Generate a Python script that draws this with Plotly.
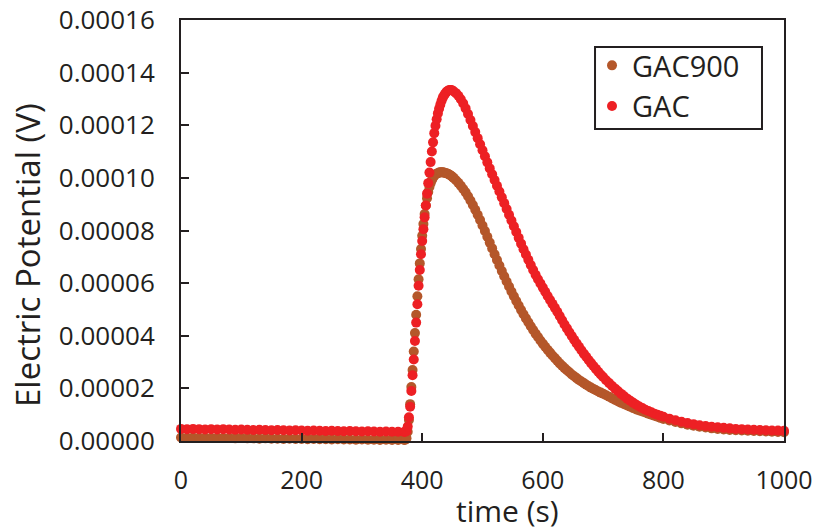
import plotly.graph_objects as go

# time (s)
time = [
    0, 10, 20, 30, 40, 50, 60, 70, 80, 90,
    100, 110, 120, 130, 140, 150, 160, 170, 180, 190,
    200, 210, 220, 230, 240, 250, 260, 270, 280, 290,
    300, 310, 320, 330, 340, 350, 360, 370,
    372, 374, 376, 378, 380, 382, 384, 386, 388, 390,
    392, 394, 396, 398, 400, 402, 404, 406, 408, 410,
    412, 414, 416, 418, 420, 422, 424, 426, 428, 430,
    432, 434, 436, 438, 440, 442, 444, 446, 448, 450,
    452, 456, 460, 464, 468, 472, 476, 480, 484, 488,
    492, 496, 500, 504, 508, 512, 516, 520, 524, 528,
    532, 536, 540, 544, 548, 552, 556, 560, 564, 568,
    572, 576, 580, 584, 588, 592, 596, 600, 604, 608,
    612, 616, 620, 624, 628, 632, 636, 640, 644, 648,
    652, 656, 660, 664, 668, 672, 676, 680, 684, 688,
    692, 696, 700,
    705, 710, 715, 720, 725, 730, 735, 740, 745, 750,
    755, 760, 765, 770, 775, 780, 785, 790, 795, 800,
    810, 820, 830, 840, 850, 860, 870, 880, 890, 900,
    910, 920, 930, 940, 950, 960, 970, 980, 990, 1000,
]

# GAC900 electric potential, in microvolts
gac900_uv = [
    1.3, 1.2, 1.3, 1.2, 1.2, 1.1, 1.2, 1.1, 1.1, 1.0,
    1.1, 1.0, 1.0, 0.9, 1.0, 0.9, 0.9, 0.8, 0.9, 0.8,
    0.8, 0.7, 0.8, 0.7, 0.7, 0.6, 0.7, 0.6, 0.6, 0.5,
    0.6, 0.5, 0.5, 0.4, 0.5, 0.4, 0.4, 0.4,
    0.5, 1.0, 3.5, 8.0, 14.0, 20.5, 27.0, 34.0, 41.0, 48.0,
    55.0, 61.5, 67.5, 73.0, 78.0, 82.5, 86.3, 89.5, 92.3, 94.6,
    96.5, 98.0, 99.2, 100.1, 100.8, 101.3, 101.6, 101.8, 102.0, 102.1,
    102.1, 102.1, 102.0, 101.9, 101.8, 101.6, 101.4, 101.1, 100.8, 100.4,
    100.0, 99.1, 98.1, 97.0, 95.8, 94.5, 93.0, 91.4, 89.7, 87.9,
    86.0, 84.0, 81.9, 79.8, 77.6, 75.4, 73.2, 71.0, 68.8, 66.7,
    64.6, 62.6, 60.6, 58.7, 56.8, 55.0, 53.2, 51.5, 49.8, 48.2,
    46.6, 45.1, 43.6, 42.2, 40.8, 39.5, 38.2, 37.0, 35.8, 34.7,
    33.6, 32.5, 31.5, 30.5, 29.5, 28.6, 27.7, 26.9, 26.1, 25.3,
    24.6, 23.9, 23.2, 22.6, 22.0, 21.4, 20.8, 20.3, 19.8, 19.3,
    18.8, 18.4, 18.0,
    17.4, 16.8, 16.2, 15.6, 15.0, 14.5, 14.0, 13.5, 13.0, 12.5,
    12.0, 11.6, 11.2, 10.8, 10.4, 10.0, 9.6, 9.2, 8.8, 8.4,
    7.8, 7.2, 6.7, 6.2, 5.8, 5.4, 5.1, 4.8, 4.6, 4.4,
    4.2, 4.1, 4.0, 3.9, 3.8, 3.7, 3.6, 3.5, 3.4, 3.3,
]

# GAC electric potential, in microvolts
gac_uv = [
    4.6, 4.5, 4.6, 4.5, 4.4, 4.5, 4.4, 4.5, 4.4, 4.3,
    4.4, 4.3, 4.2, 4.3, 4.2, 4.1, 4.2, 4.1, 4.0, 4.1,
    4.0, 3.9, 4.0, 3.9, 3.8, 3.9, 3.8, 3.7, 3.8, 3.7,
    3.6, 3.7, 3.6, 3.5, 3.6, 3.5, 3.5, 3.4,
    3.5, 3.8, 5.5, 9.0, 13.0, 19.0, 25.0, 31.0, 38.0, 45.0,
    52.0, 59.0, 65.0, 71.0, 76.0, 80.5, 85.0, 89.5, 94.0, 98.0,
    102.0, 106.0, 110.0, 113.5, 117.0, 119.8, 122.3, 124.5, 126.3, 127.8,
    129.2, 130.4, 131.3, 132.0, 132.6, 133.0, 133.3, 133.4, 133.4, 133.2,
    132.9, 132.2, 131.2, 129.9, 128.3, 126.4, 124.3, 122.0, 119.7, 117.4,
    115.1, 112.8, 110.5, 108.2, 105.9, 103.6, 101.4, 99.2, 97.0, 94.8,
    92.6, 90.4, 88.2, 86.0, 83.8, 81.6, 79.4, 77.2, 75.0, 72.9,
    70.9, 68.9, 66.9, 65.0, 63.2, 61.5, 59.9, 58.3, 56.7, 55.1,
    53.6, 52.1, 50.6, 49.1, 47.5, 45.9, 44.3, 42.8, 41.3, 39.9,
    38.5, 37.1, 35.8, 34.5, 33.2, 32.0, 30.8, 29.6, 28.5, 27.4,
    26.3, 25.3, 24.3,
    23.1, 22.0, 20.9, 19.9, 18.9, 17.9, 17.0, 16.1, 15.3, 14.5,
    13.8, 13.1, 12.5, 11.9, 11.4, 10.9, 10.4, 10.0, 9.6, 9.2,
    8.5, 7.9, 7.3, 6.8, 6.4, 6.0, 5.7, 5.4, 5.2, 5.0,
    4.8, 4.6, 4.5, 4.4, 4.3, 4.2, 4.1, 4.0, 3.95, 3.9,
]

x_ticks = [0, 200, 400, 600, 800, 1000]
y_ticks = [0.0, 0.00002, 0.00004, 0.00006, 0.00008, 0.0001, 0.00012, 0.00014, 0.00016]

BROWN = "#B4572A"
RED = "#ED2024"
INK = "#231F20"
FONT = "Open Sans, Noto Sans, sans-serif"

gac900 = [v * 1e-6 for v in gac900_uv]
gac = [v * 1e-6 for v in gac_uv]

fig = go.Figure()
fig.add_trace(go.Scatter(x=time, y=gac900, mode="markers", name="GAC900",
                         marker=dict(color=BROWN, size=10), cliponaxis=False))
fig.add_trace(go.Scatter(x=time, y=gac, mode="markers", name="GAC",
                         marker=dict(color=RED, size=10), cliponaxis=False))

axis_common = dict(
    showline=True, mirror=True, linecolor=INK, linewidth=2,
    ticks="inside", ticklen=8, tickwidth=2, tickcolor=INK,
    showgrid=False, zeroline=False, automargin=False,
    ticklabeloverflow="allow",
)

fig.update_xaxes(range=[0, 1000], tickvals=x_ticks, ticklabelstandoff=16,
                 tickfont=dict(family=FONT, size=25, color=INK), **axis_common)
fig.update_yaxes(range=[0, 0.00016], tickvals=y_ticks, tickformat=".5f",
                 ticklabelstandoff=19,
                 tickfont=dict(family=FONT, size=26, color=INK), **axis_common)

fig.update_layout(
    width=816, height=529,
    margin=dict(l=181, r=32, t=20, b=88),
    paper_bgcolor="white", plot_bgcolor="white",
    font=dict(family=FONT, color=INK),
    showlegend=True,
    legend=dict(x=0.6816, y=0.9525, xanchor="left", yanchor="top",
                borderwidth=0, bgcolor="rgba(0,0,0,0)",
                font=dict(family=FONT, size=29, color=INK)),
    shapes=[
        dict(type="rect", xref="paper", yref="paper",
             x0=0.6866, x1=0.9635, y0=0.7411, y1=0.9359,
             line=dict(color=INK, width=2), fillcolor="rgba(0,0,0,0)"),
    ],
    annotations=[
        dict(text="time (s)", xref="paper", yref="paper", x=0.542, y=-0.165,
             xanchor="center", yanchor="middle", showarrow=False,
             font=dict(family=FONT, size=30, color=INK)),
        dict(text="Electric Potential (V)", xref="paper", yref="paper",
             x=-0.2554, y=0.4418, xanchor="center", yanchor="middle",
             textangle=-90, showarrow=False,
             font=dict(family=FONT, size=33, color=INK)),
    ],
)

# remove the default page margin so the figure fills the window exactly
fig.write_html("out.html",
               config={"displayModeBar": False},
               post_script="document.body.style.margin='0';document.body.style.overflow='hidden';")
